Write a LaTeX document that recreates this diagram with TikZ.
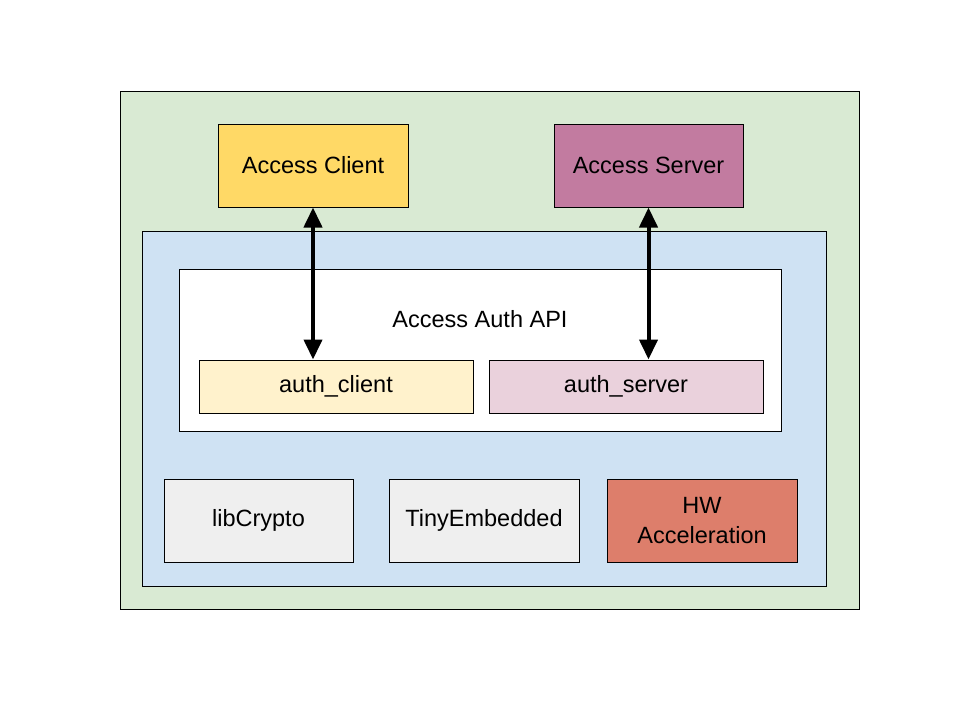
\documentclass[tikz,border=0pt]{standalone}
\usepackage{fontspec}
\setmainfont{Liberation Sans}
\usetikzlibrary{arrows.meta}

\definecolor{gframe}{HTML}{D9EAD3}
\definecolor{bframe}{HTML}{CFE2F3}
\definecolor{yclient}{HTML}{FFD966}
\definecolor{pserver}{HTML}{C27BA0}
\definecolor{yauth}{HTML}{FFF2CC}
\definecolor{pauth}{HTML}{EAD1DC}
\definecolor{glib}{HTML}{EFEFEF}
\definecolor{rhw}{HTML}{DD7E6B}

\tikzset{
	box/.style={draw=black, line width=1pt, inner sep=0pt, align=center,
		font=\fontsize{23.5}{30}\selectfont},
	link/.style={{Triangle[width=18pt,length=20pt]}-{Triangle[width=18pt,length=20pt]}, line width=4pt}
}

\begin{document}
\begin{tikzpicture}[x=1pt,y=1pt,yscale=-1]
	\useasboundingbox (0,0) rectangle (960,720);
	%Shape: Rectangle
	\node[box, fill=gframe, minimum width=739pt, minimum height=518pt] (outer) at (489.5,350) {};
	%Shape: Rectangle
	\node[box, fill=yclient, minimum width=190pt, minimum height=83pt] (client) at (313,165.5) {Access Client};
	%Shape: Rectangle
	\node[box, fill=pserver, minimum width=189pt, minimum height=83pt] (server) at (648.5,165.5) {Access Server};
	
	%Shape: Rectangle
	\node[box, fill=bframe, minimum width=684pt, minimum height=355pt] (stack) at (484,408.5) {};
	%Shape: Rectangle
	\node[box, fill=white, minimum width=602pt, minimum height=162pt] (api) at (480,350) {};
	% Text Node
	\node[font=\fontsize{23.5}{30}\selectfont] (apilabel) at (480,319) {Access Auth API};
	%Shape: Rectangle
	\node[box, fill=yauth, minimum width=274pt, minimum height=53pt] (aclient) at (336,386.5) {auth\_client};
	%Shape: Rectangle
	\node[box, fill=pauth, minimum width=274pt, minimum height=53pt] (aserver) at (626,386.5) {auth\_server};
	
	%Shape: Rectangle
	\node[box, fill=glib, minimum width=189pt, minimum height=83pt] (crypto) at (258.5,520.5) {libCrypto};
	%Shape: Rectangle
	\node[box, fill=glib, minimum width=190pt, minimum height=83pt] (tiny) at (484,520.5) {TinyEmbedded};
	%Shape: Rectangle
	\node[box, fill=rhw, minimum width=190pt, minimum height=83pt] (hw) at (702,520.5) {HW\\Acceleration};
	
	% arrows
	\draw[link] (client.south) -- (client.south |- aclient.north);
	\draw[link] (server.south) -- (server.south |- aserver.north);
\end{tikzpicture}
\end{document}
